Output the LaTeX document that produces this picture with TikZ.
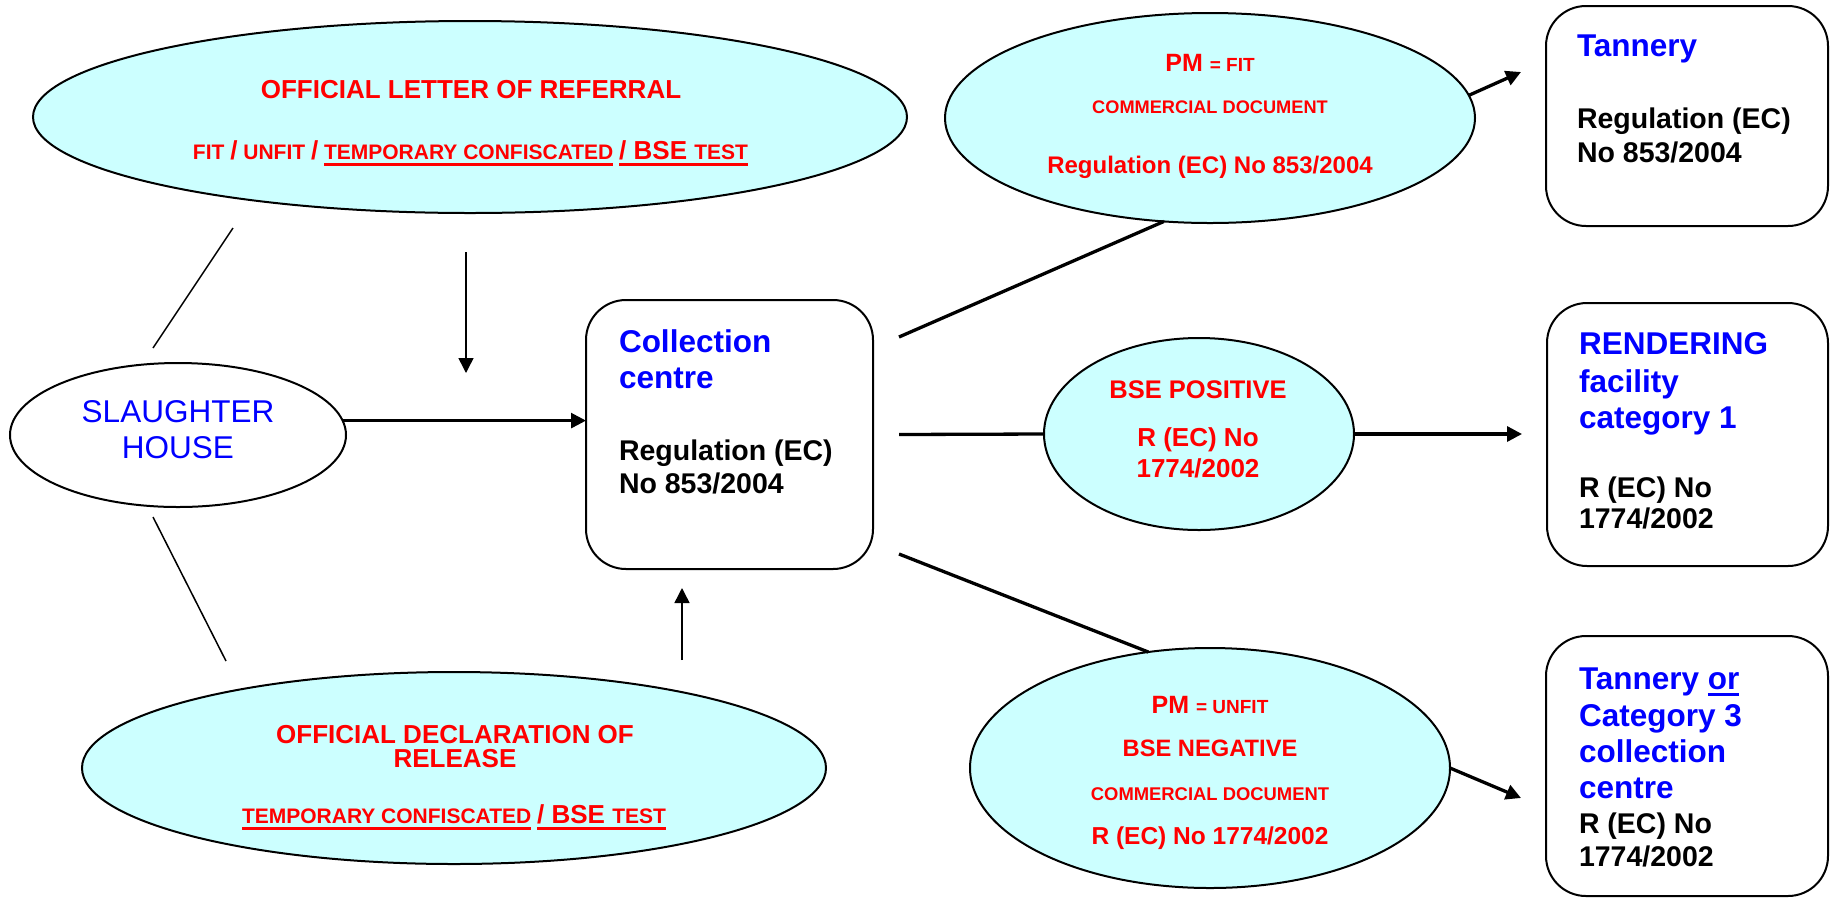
\documentclass[tikz,border=0pt]{standalone}
\usepackage{fontspec}
\setmainfont{Liberation Sans}
\usetikzlibrary{shapes.geometric,arrows.meta,calc}
\definecolor{cyanfill}{HTML}{CCFFFF}
\definecolor{rd}{HTML}{FF0000}
\definecolor{bl}{HTML}{0000FF}
% font size in points, tight leading
\newcommand\fsz[1]{\fontsize{#1}{#1}\selectfont}
% thick underline in the current colour
\newcommand\uln[1]{\setbox0=\hbox{#1}\rlap{\rule[-6.6pt]{\wd0}{3pt}}\box0\relax}
\begin{document}
\begin{tikzpicture}[x=1pt,y=-1pt,
  oval/.style={ellipse, draw, line width=2pt, inner sep=0pt, outer sep=0pt},
  cyanoval/.style={oval, fill=cyanfill},
  box/.style={rectangle, draw, line width=2pt, rounded corners=40pt, inner sep=0pt, outer sep=0pt},
  txt/.style={inner sep=0pt, outer sep=0pt},
  redt/.style={txt, anchor=base, text=rd, font=\bfseries},
  bluet/.style={txt, anchor=base west, text=bl, font=\bfseries\fsz{31.5}},
  blackt/.style={txt, anchor=base west, text=black, font=\bfseries\fsz{28.5}},
  conn1/.style={line width=1.5pt},
  conn2/.style={line width=2.7pt},
  conn3/.style={line width=3.3pt},
  tip/.style={-{Triangle[length=15pt,width=15pt]}}
]
\useasboundingbox (0,0) rectangle (1831,898);

% shapes
\node[cyanoval, minimum width=874pt, minimum height=192pt] (letter) at (470,117) {};
\node[oval, minimum width=336pt, minimum height=144pt] (sh) at (178,435) {};
\node[cyanoval, minimum width=744pt, minimum height=192pt] (decl) at (454,768) {};
\node[box, minimum width=287pt, minimum height=269pt] (cc) at (729.5,434.5) {};
\node[cyanoval, minimum width=530pt, minimum height=210pt] (pmfit) at (1210,118) {};
\node[cyanoval, minimum width=310pt, minimum height=192pt] (bsepos) at (1199,434) {};
\node[cyanoval, minimum width=480pt, minimum height=240pt] (pmunfit) at (1210,768) {};
\node[box, minimum width=282pt, minimum height=220pt] (tan) at (1687,116) {};
\node[box, minimum width=281pt, minimum height=263pt] (rend) at (1687.5,434.5) {};
\node[box, minimum width=282pt, minimum height=260pt] (cat3) at (1687,766) {};

% official letter of referral
\node[redt, font=\bfseries\fsz{26}] (letter-t1) at (471,98) {OFFICIAL LETTER OF REFERRAL};
\node[redt] (letter-t2) at (470.5,159) {\fsz{21}FIT {\fsz{26}/} UNFIT {\fsz{26}/} \uln{TEMPORARY CONFISCATED} \uln{\fsz{26}/ BSE {\fsz{21}TEST}}};

% official declaration of release
\node[redt, font=\bfseries\fsz{26}] (decl-t1) at (455,743) {OFFICIAL DECLARATION OF};
\node[redt, font=\bfseries\fsz{26}] (decl-t2) at (455,767) {RELEASE};
\node[redt] (decl-t3) at (454,823) {\fsz{21}\uln{TEMPORARY CONFISCATED} \uln{\fsz{26}/ BSE {\fsz{21}TEST}}};

% slaughter house
\node[txt, anchor=base, text=bl, font=\fsz{31.5}] (sh-t1) at (178,422) {SLAUGHTER};
\node[txt, anchor=base, text=bl, font=\fsz{31.5}] (sh-t2) at (178,458) {HOUSE};

% collection centre
\node[bluet] (cc-t1) at (619,352) {Collection};
\node[bluet] (cc-t2) at (619,388) {centre};
\node[blackt] (cc-t3) at (619,460) {Regulation (EC)};
\node[blackt] (cc-t4) at (619,493) {No 853/2004};

% PM = fit
\node[redt] (pmfit-t1) at (1210,71) {\fsz{25}PM {\fsz{19}= FIT}};
\node[redt] (pmfit-t2) at (1210,113) {\fsz{18.2}COMMERCIAL DOCUMENT};
\node[redt] (pmfit-t3) at (1210,173) {\fsz{24}Regulation (EC) No 853/2004};

% BSE positive
\node[redt] (bsepos-t1) at (1198,398) {\fsz{25.5}BSE POSITIVE};
\node[redt] (bsepos-t2) at (1198,446) {\fsz{26}R (EC) No};
\node[redt] (bsepos-t3) at (1198,477) {\fsz{26}1774/2002};

% PM = unfit
\node[redt] (pmunfit-t1) at (1210,713) {\fsz{25}PM {\fsz{19}= UNFIT}};
\node[redt] (pmunfit-t2) at (1210,756) {\fsz{23.7}BSE NEGATIVE};
\node[redt] (pmunfit-t3) at (1210,800) {\fsz{18.4}COMMERCIAL DOCUMENT};
\node[redt] (pmunfit-t4) at (1210,844) {\fsz{24.5}R (EC) No 1774/2002};

% tannery
\node[bluet] (tan-t1) at (1577,56) {Tannery};
\node[blackt] (tan-t2) at (1577,128) {Regulation (EC)};
\node[blackt] (tan-t3) at (1577,162) {No 853/2004};

% rendering facility
\node[bluet] (rend-t1) at (1579,354) {RENDERING};
\node[bluet] (rend-t2) at (1579,392) {facility};
\node[bluet] (rend-t3) at (1579,428) {category 1};
\node[blackt] (rend-t4) at (1579,497) {R (EC) No};
\node[blackt] (rend-t5) at (1579,528) {1774/2002};

% tannery or category 3 collection centre
\node[bluet] (cat3-t1) at (1579,689) {Tannery \uln{or}};
\node[bluet] (cat3-t2) at (1579,726) {Category 3};
\node[bluet] (cat3-t3) at (1579,762) {collection};
\node[bluet] (cat3-t4) at (1579,798) {centre};
\node[blackt] (cat3-t5) at (1579,833) {R (EC) No};
\node[blackt] (cat3-t6) at (1579,866) {1774/2002};

% connectors
\coordinate (ln1a) at (153,348);
\coordinate (ln1b) at (233,228);
\coordinate (ln2a) at (153,517);
\coordinate (ln2b) at (226,661);
\coordinate (dn1) at (466,252);
\coordinate (dn2) at (466,373);
\coordinate (up1) at (682,660);
\coordinate (up2) at (682,588);
\coordinate (tanTip) at (1521,72);
\coordinate (catTip) at (1521,798);

\draw[conn1] (ln1a) -- (ln1b);
\draw[conn1] (ln2a) -- (ln2b);
\draw[conn1, tip] (dn1) -- (dn2);
\draw[conn1, tip] (up1) -- (up2);
\draw[conn2, tip] (sh.5) -- (sh.5 -| cc.west);
\draw[conn3] ($(cc.north east)+(26,37)$) -- (pmfit.246);
\draw[conn3] ($(cc.east)+(26,0)$) -- (bsepos.west);
\draw[conn3] ($(cc.south east)+(26,-15)$) -- (pmunfit.118);
\draw[conn3, tip] (bsepos.east) -- ($(bsepos.east -| rend.west)+(-25,0)$);
\draw[conn3, tip] (pmfit.5) -- (tanTip);
\draw[conn3, tip] (pmunfit.east) -- (catTip);
\end{tikzpicture}
\end{document}
